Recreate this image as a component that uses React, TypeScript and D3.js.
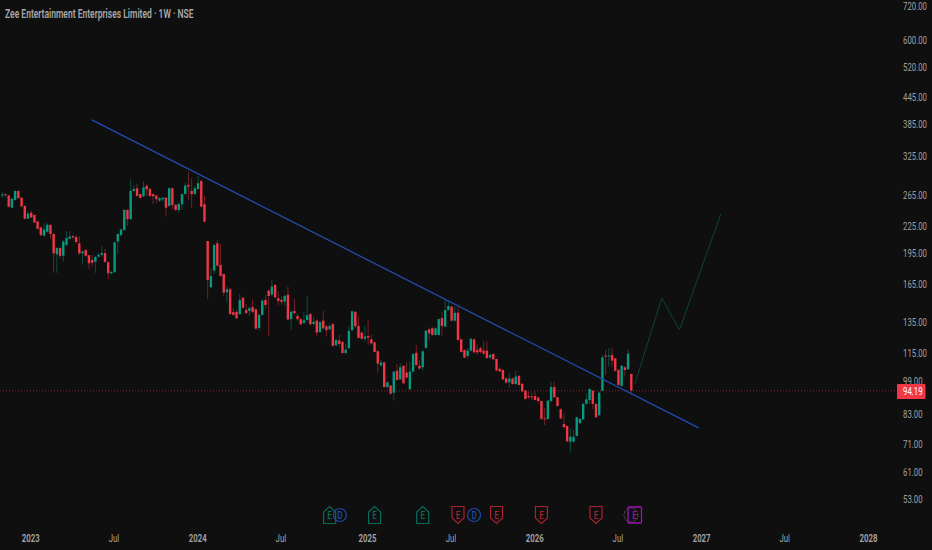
import { useRef, useEffect } from "react";
import * as d3 from "d3";

// weekly bars
const opens = [264,266,264,247.7,258,270.5,261,250,233.5,241,238.3,230.4,223,213.5,218,226,215.5,193.5,200,192,203.3,210,213,212,205,194.5,198,192.5,187.8,186,191,193,194.7,185.5,175,176,207,214.3,220,244.7,233,270.5,274.5,266,263,278,273.5,266,264,257,259,261,250,274.5,251.3,244.7,252.2,266.3,279.3,270.5,266.3,273.5,285.3,252.2,207.6,162.5,177.5,205,183,174.2,158.3,160.8,142.5,142.7,141,153.8,144.1,143.3,146.4,144.6,131,140.4,152,159.6,156.3,164.5,153.3,152,150.7,156.3,137.3,143.3,139.6,137.3,134.7,136.7,141.1,133.9,136.2,128.3,136.2,132.2,130.1,133.8,119.6,122.6,121.7,114.8,117.7,129.5,142.7,132.4,127.9,123.8,125.6,123.4,121.4,115.9,107.5,109.2,95.9,96.6,93,104.5,99.8,107.2,103.5,94.7,104,114.9,107.3,106.4,118,130.1,130.8,126.3,126.3,138.1,132,144.1,146.7,136.2,142,123.4,116.6,113,116.2,123.4,116.6,117.7,116.2,116.2,112,114.2,111.2,105.5,104.9,100.3,98.3,100.3,97.4,101.7,97.5,94.1,91.4,91.2,91.4,90.6,89,81.2,81,89,95.9,90.8,85.2,78.8,78,71.8,71.8,74,79.2,80.8,87.7,89.5,94,87.7,82.6,94,113.2,112.6,113.6,111.5,104.9,96.4,106.4,105.3,102.7];
const highs = [269,267,265,260.5,271.5,271,262.5,251,242.5,243.5,239,231,224,228,228,227,216,201,201,208.7,218.5,219,214.5,214,213,197,199,193,192.8,192,194.7,202,199,186.5,177,207,216,222,245.7,245.7,288,279,281,267,284,281,274.5,267,265,262,262,262,275.5,275.5,252.6,254,267,283,299.5,289,278,293,286.8,263.6,208,179.8,205,208.7,204.4,174.8,163.2,162,145.5,144.1,156.7,154.4,148.8,147.2,152.5,145.3,141.6,152.5,155.8,160.7,169,165,158.8,155,156.7,163.2,144.1,153,141.6,138,142.5,155,141.6,138.8,137.3,136.2,143.3,132.9,133.8,134.7,123.4,126.3,122.2,120.8,132,143.6,143.1,139.1,128.6,132.4,136.7,126.3,122,116.6,111,109.6,98.6,96.9,104.4,108.3,108.6,107.5,109.2,109.6,114.8,119.8,110.6,116.6,129.7,131.5,131.5,131.5,137.7,142.9,152,152,147.2,146.7,147.2,123.8,117,117.9,124.1,123.8,119.8,118.7,122,122,114.4,114.4,111.5,106.4,105.3,100.9,103.1,100.9,104.5,102.2,97.9,94.2,93.6,93.1,93.6,91.1,89.4,85.7,89.5,98.6,98.6,91.1,85.7,83.5,78.3,77,76.4,81.9,81.3,88,92.7,95.2,94.4,88,93.6,113.6,116.6,117.9,117.9,111.9,105.3,107.7,107.2,117,103.1];
const lows = [260.5,261.5,248,247,257,259,248,233,233,234,228,220.7,213,213,217,210,175.5,175.5,189.5,186,202,210,209.5,205,192.8,183,191,179,181,175.5,190.5,191,185,170,173.4,175.5,193.8,213,219,225,232,269.5,262.5,260,262,263.6,262,252.5,253.5,255.5,255.5,236.2,249,245.7,243.8,241,244.7,265,258,247.7,265,272,248,228.8,152.6,161.6,174.5,181,172,155,149.7,140.4,139.9,137.4,140.4,145.3,141.1,139.6,141.6,129.7,129.2,139.9,145.3,125.6,155,153.3,148,148,146.7,136.4,129.7,140.4,136.2,132.9,133.8,135.4,132.9,133.1,125.6,127.4,130.1,125.2,129.2,118.7,118.7,118.7,114.2,114.2,117.2,128.6,130.8,123.8,123,122,119.8,119.8,115,103.4,106.8,95.5,95.2,91.9,89.2,99.2,99.5,97.3,100.1,94.4,103.5,107.2,105.3,104.5,117.2,122.6,125.8,125.8,125.8,125.8,131.5,143.6,135.4,135.4,122.6,115,111.7,111.5,115.6,114.4,113.6,114.4,113.6,111.4,111.5,110.2,104,103.7,99.5,97.8,95.5,96.9,96.9,96.6,93.4,89.7,89.8,89.5,89.2,87.9,80.5,78.4,80.5,88.7,90.5,86.4,80.8,77.1,71.6,67.7,71.4,73.7,78.8,80.5,87.2,87.5,85.3,81.2,82.2,93.6,102.2,106.8,106.8,104,96.6,96.1,101.3,104.9,92.4];
const closes = [265.5,265,249,259.5,270.5,260.5,249.5,233.5,240,235.3,229,221.5,214.3,220.7,226.3,215.5,194.5,200,192,207,211,212.5,211.7,206.5,194.5,196.5,192,184.5,185,190.8,193,194.7,186,175,176.3,206,215.5,220.7,244.7,233,270.5,273.5,263.5,260.7,275.8,272.9,263.5,263,259,260.5,261,247.7,274.5,251.3,244.7,252.6,266,278.3,277,266,274.5,281.8,249,230,169,172.5,203.3,182.3,172.6,158,160.8,141.1,140.4,138,152,145.8,141.8,145.5,142.7,130.6,140.4,151.4,148,155.2,163.2,154.1,151.2,150.4,155.2,137,142.7,141.8,137.3,133.6,136.4,140.1,133.6,135.4,127.9,135.1,130.8,129.5,132.4,119.2,123,120.4,114.8,116.8,129,143.1,132.2,124.3,123.8,125.2,124.5,120.8,115.4,108.5,109.1,95.9,98.3,92.6,104,99.5,106.4,97.8,100.8,104,114.1,107.7,105.7,115.8,129.2,127.4,126.3,130.8,137.3,132.4,144.1,147.2,136.2,142,123,115.4,112,116.2,123.7,115.2,115.2,115.4,114.4,111.7,113.6,111,104.7,104.2,99.8,98.1,100.3,97.4,101.3,96.9,93.7,90,90.8,90.8,89.5,89,81,80.9,89.2,95.9,90.8,86.7,81.2,77.5,71.9,73.7,73.7,81.7,81,87.7,89.8,94.9,87.7,81.7,93,112.1,112.6,113.2,110.2,104.5,96.9,107.3,104.9,114.4,94.19];

const priceTicks = [720,600,520,445,385,325,265,225,195,165,135,115,99,83,71,61,53];
const timeLabels = ["2023","Jul","2024","Jul","2025","Jul","2026","Jul","2027","Jul","2028"];
const timeWeeks = [8.85,34.8,60.9,86.8,113.8,139.8,165.9,191.8,217.9,243.8,269.9];

const trendWeeks = [27.9,217];
const trendPrices = [394,77.2];
const pathWeeks = [197.1,205.5,211,223.9];
const pathPrices = [97.4,153.6,129.7,239.5];

const earnUp = [102,116,131];
const earnDown = [142,154,168,185];
const earnNext = [197];
const dividends = [105.2,147];

const lastPrice = 94.19;
const title = "Zee Entertainment Enterprises Limited · 1W · NSE";

const UP = "#089981";
const DOWN = "#f23645";

export default function App() {
  const ref = useRef<SVGSVGElement | null>(null);

  useEffect(() => {
    const svg = d3.select(ref.current);
    svg.selectAll("*").remove();

    const width = 932;
    const height = 550;
    const font = "Roboto, sans-serif";
    const squeeze = 0.71; // the picture's text is narrower than it is tall

    const x = d3.scaleLinear().domain([0, 196]).range([2.3, 631.3]);
    const y = d3.scaleLog().domain([720, 53]).range([6, 499]);

    svg.append("rect").attr("width", width).attr("height", height).attr("fill", "#0f0f0f");

    // last price line
    svg.append("line")
      .attr("x1", 0).attr("x2", 897)
      .attr("y1", y(lastPrice) + 0.5).attr("y2", y(lastPrice) + 0.5)
      .attr("stroke", DOWN).attr("stroke-opacity", 0.55)
      .attr("stroke-dasharray", "1 2");

    const bars = closes.map((c, i) => ({ i, o: opens[i], h: highs[i], l: lows[i], c }));
    const colorOf = (d: { o: number; c: number }) => (d.c >= d.o ? UP : DOWN);

    svg.append("g").selectAll("line").data(bars).enter().append("line")
      .attr("x1", (d) => x(d.i)).attr("x2", (d) => x(d.i))
      .attr("y1", (d) => y(d.h)).attr("y2", (d) => y(d.l))
      .attr("stroke", colorOf).attr("stroke-opacity", 0.45).attr("stroke-width", 1);

    svg.append("g").selectAll("rect").data(bars).enter().append("rect")
      .attr("x", (d) => x(d.i) - 1.2)
      .attr("width", 2.4)
      .attr("y", (d) => Math.min(y(d.o), y(d.c)))
      .attr("height", (d) => Math.max(1, Math.abs(y(d.o) - y(d.c))))
      .attr("fill", colorOf);

    // drawings
    const line = d3.line<number>().x((d) => x(d)).y((_, i) => y(trendPrices[i]));
    svg.append("path").attr("d", line(trendWeeks)).attr("fill", "none")
      .attr("stroke", "#1f4cb0").attr("stroke-width", 1.3);

    const pathLine = d3.line<number>().x((d) => x(d)).y((_, i) => y(pathPrices[i]));
    svg.append("path").attr("d", pathLine(pathWeeks)).attr("fill", "none")
      .attr("stroke", "#0d4436").attr("stroke-width", 1);

    // earnings / dividend markers
    const markY = 515;
    const letter = (g: any, s: string, color: string) =>
      g.append("text").attr("text-anchor", "middle")
        .attr("transform", `translate(0,3.5) scale(${squeeze + 0.1},1)`)
        .attr("fill", color)
        .style("font", `500 10px ${font}`).text(s);

    const marker = (wk: number, up: boolean, color: string) => {
      const g = svg.append("g").attr("transform", `translate(${x(wk)},${markY})`);
      const shape = up
        ? "M-6,8.5V-3L0,-8.5L6,-3V8.5Z"
        : "M-6,-8.5H6V3L0,8.5L-6,3Z";
      g.append("path").attr("d", shape).attr("fill", "#0f0f0f").attr("stroke", color).attr("stroke-width", 1.2);
      letter(g, "E", color);
    };
    earnUp.forEach((w) => marker(w, true, "#0b6b5a"));
    earnDown.forEach((w) => marker(w, false, "#a8212f"));

    dividends.forEach((w) => {
      const g = svg.append("g").attr("transform", `translate(${x(w)},${markY})`);
      g.append("circle").attr("r", 6.5).attr("fill", "none").attr("stroke", "#1d4aa8").attr("stroke-width", 1.2);
      letter(g, "D", "#1d4aa8");
    });

    earnNext.forEach((w) => {
      const g = svg.append("g").attr("transform", `translate(${x(w)},${markY})`);
      g.append("circle").attr("cx", -3.5).attr("r", 7).attr("fill", "none").attr("stroke", "#555").attr("stroke-dasharray", "2 1");
      g.append("rect").attr("x", -6.5).attr("y", -8).attr("width", 13.5).attr("height", 16)
        .attr("rx", 1).attr("fill", "none").attr("stroke", "#a010b8").attr("stroke-width", 1.3);
      letter(g, "E", "#a010b8");
    });

    // axes
    svg.append("g").selectAll("text").data(priceTicks).enter().append("text")
      .attr("transform", (d) => `translate(903,${y(d) + 3.9}) scale(${squeeze},1)`)
      .attr("fill", "#a0a0a0")
      .style("font", `11px ${font}`)
      .text((d) => d.toFixed(2));

    svg.append("g").selectAll("text").data(timeLabels).enter().append("text")
      .attr("transform", (_, i) => `translate(${x(timeWeeks[i])},542) scale(${squeeze},1)`)
      .attr("text-anchor", "middle").attr("fill", "#a8a8a8")
      .style("font", (d) => `${d === "Jul" ? 400 : 600} 11px ${font}`)
      .text((d) => d);

    // last price tag
    svg.append("rect").attr("x", 897).attr("y", 384).attr("width", 28.5).attr("height", 15)
      .attr("rx", 1).attr("fill", DOWN);
    svg.append("text")
      .attr("transform", `translate(903,${y(lastPrice) + 5}) scale(${squeeze},1)`)
      .attr("fill", "#fff")
      .style("font", `11px ${font}`).text(lastPrice.toFixed(2));

    svg.append("text").attr("transform", `translate(5,17.5) scale(${squeeze},1)`).attr("fill", "#a8a8a8")
      .style("font", `600 12px ${font}`).text(title);
  }, []);

  return (
    <svg
      ref={ref}
      width={932}
      height={550}
      style={{ position: "absolute", left: 0, top: 0, display: "block" }}
    ></svg>
  );
}
